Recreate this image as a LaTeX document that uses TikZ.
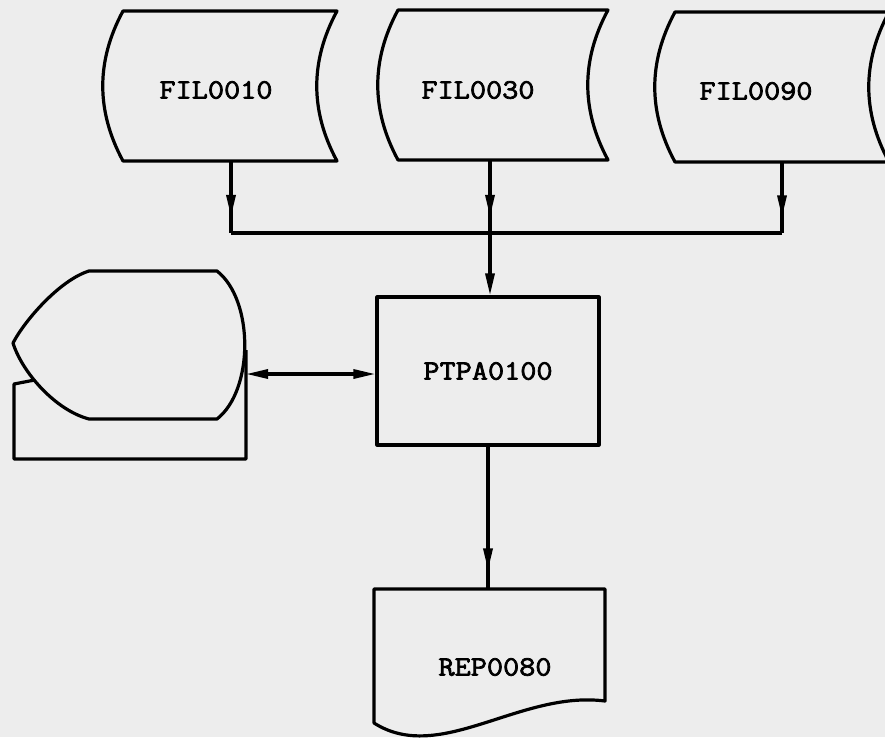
\documentclass[tikz,border=0pt]{standalone}
\usepackage{fontspec}
\newfontfamily\typew[FakeBold=2.6, FakeStretch=1.12]{Latin Modern Mono}
\usetikzlibrary{arrows.meta,decorations.markings}

\definecolor{paper}{gray}{0.93}

% file symbol: top-left corner, width
\newcommand{\fileshape}[3]{%
  \draw[ln] (#1,#2) -- ++(#3,0) .. controls +(-27,50) and +(-27,-50) .. ++(0,150)
    -- ++(-#3,0) .. controls +(-27,-50) and +(-27,50) .. (#1,#2) -- cycle;}

\begin{document}
\begin{tikzpicture}[x=1pt, y=-1pt,
    >={Triangle[length=22pt, width=9pt]},
    ln/.style={line width=3.2pt, line join=round},
    lbl/.style={font=\fontsize{28}{30}\selectfont\typew, inner sep=0pt},
    midarrow/.style={postaction={decorate},
      decoration={markings, mark=at position #1 with {\arrow{>}}}}]

    % Papier
    \fill[paper] (0,0) rectangle (885,737);
    \useasboundingbox (0,0) rectangle (885,737);

    % Dateien oben
    \fileshape{123}{11}{214}
    \fileshape{398}{10}{210}
    \fileshape{675}{12}{214}
    \node[lbl] (f10) at (216,90) {FIL0010};
    \node[lbl] (f30) at (478,90) {FIL0030};
    \node[lbl] (f90) at (756,91) {FIL0090};

    % Sammelleitung
    \coordinate (f10b) at (231,160);
    \coordinate (f30b) at (490,160);
    \coordinate (f90b) at (782,162);
    \coordinate (busl) at (231,233);
    \coordinate (busm) at (490,233);
    \coordinate (busr) at (782,233);
    \draw[ln] (busl) -- (busr);
    \draw[ln, midarrow=0.78] (f10b) -- (busl);
    \draw[ln, midarrow=0.78] (f30b) -- (busm);
    \draw[ln, midarrow=0.78] (f90b) -- (busr);

    % Programm
    \node[ln, draw, lbl, minimum width=222pt, minimum height=148pt] (prog) at (488,371) {PTPA0100};
    \draw[ln, ->] (busm) -- (busm |- prog.north);

    % Bildschirm links
    \draw[ln] (45,378) -- (14,384) -- (14,459) -- (246,459) -- (246,350);
    \filldraw[ln, fill=paper] (89,271) -- (217,271) .. controls (254,300) and (254,390) .. (217,419)
      -- (89,419) .. controls (55,410) and (22,372) .. (13,343)
      .. controls (25,320) and (60,280) .. (89,271) -- cycle;
    \coordinate (disp) at (246,374);
    \draw[ln, <->] (disp) -- (disp -| prog.west);

    % Liste unten
    \draw[ln] (374,723) -- (374,589) -- (605,589) -- (605,701)
      .. controls (520,690) and (440,765) .. (374,723) -- cycle;
    \node[lbl] (rep) at (495,667) {REP0080};
    \coordinate (reptop) at (489,589);
    \draw[ln, midarrow=0.87] (prog.south) -- (prog.south |- reptop);

\end{tikzpicture}
\end{document}
